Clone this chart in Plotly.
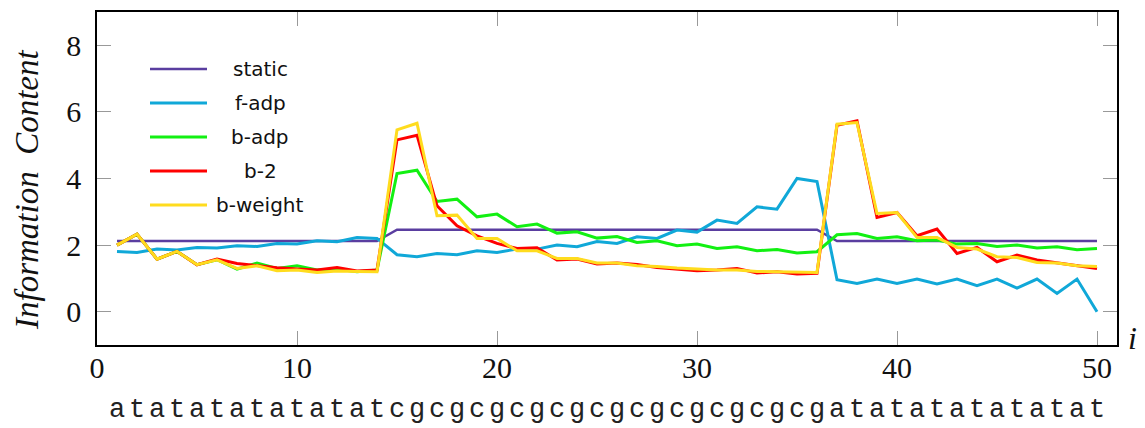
import plotly.graph_objects as go

positions = list(range(1, 51))
sequence = "atatatatatatatcgcgcgcgcgcgcgcgcgcgcgatatatatatatat"

static = [2.12]*14 + [2.46]*22 + [2.12]*14
f_adp = [1.81, 1.78, 1.88, 1.85, 1.93, 1.91, 1.98, 1.96, 2.05, 2.03,
         2.13, 2.10, 2.23, 2.20, 1.71, 1.65, 1.75, 1.71, 1.83, 1.78,
         1.88, 1.88, 2.00, 1.95, 2.11, 2.05, 2.25, 2.20, 2.45, 2.39,
         2.75, 2.65, 3.15, 3.08, 4.00, 3.91, 0.96, 0.85, 0.98, 0.85,
         0.98, 0.83, 0.98, 0.78, 0.98, 0.71, 0.98, 0.55, 0.98, 0.00]
b_adp = [2.00, 2.33, 1.58, 1.81, 1.41, 1.56, 1.28, 1.46, 1.30, 1.38,
         1.25, 1.28, 1.20, 1.25, 4.15, 4.25, 3.31, 3.38, 2.85, 2.93,
         2.55, 2.63, 2.36, 2.40, 2.21, 2.26, 2.08, 2.13, 1.98, 2.03,
         1.90, 1.95, 1.83, 1.87, 1.76, 1.80, 2.31, 2.35, 2.20, 2.25,
         2.13, 2.15, 2.03, 2.05, 1.96, 2.00, 1.91, 1.95, 1.86, 1.90]
b_2 = [2.00, 2.33, 1.58, 1.81, 1.41, 1.58, 1.45, 1.38, 1.32, 1.28,
       1.25, 1.33, 1.22, 1.25, 5.16, 5.30, 3.18, 2.58, 2.28, 2.05,
       1.90, 1.92, 1.55, 1.58, 1.43, 1.46, 1.42, 1.33, 1.28, 1.23,
       1.25, 1.30, 1.16, 1.20, 1.13, 1.15, 5.60, 5.73, 2.83, 2.98,
       2.28, 2.48, 1.75, 1.93, 1.50, 1.70, 1.55, 1.46, 1.38, 1.30]
b_weight = [2.00, 2.33, 1.58, 1.81, 1.41, 1.56, 1.30, 1.38, 1.23, 1.25,
            1.18, 1.22, 1.21, 1.20, 5.46, 5.66, 2.88, 2.90, 2.20, 2.20,
            1.83, 1.83, 1.60, 1.60, 1.46, 1.46, 1.38, 1.36, 1.31, 1.28,
            1.25, 1.25, 1.21, 1.20, 1.18, 1.18, 5.63, 5.68, 2.95, 2.98,
            2.23, 2.23, 1.93, 1.88, 1.65, 1.63, 1.48, 1.46, 1.38, 1.36]

x_ticks = [0, 10, 20, 30, 40, 50]
y_ticks = [0, 2, 4, 6, 8]

series = [
    ("static", static, "#5a3ea0", 2.5),
    ("f-adp", f_adp, "#10a8d8", 3),
    ("b-adp", b_adp, "#12f012", 3),
    ("b-2", b_2, "#ff0000", 3),
    ("b-weight", b_weight, "#ffdc1e", 3),
]

# the page has an 8px body margin; figure is sized so it fits the 1145x428 window
OFF = 8
W, H = 1145 - OFF, 428 - OFF
# plot area in screenshot pixels: x 97..1117, y 12..345
L, T = 97 - OFF, 12 - OFF
R = (1145 - OFF) - (1117 - OFF)
B = H - (345 - OFF)
pw, ph = W - L - R, H - T - B


def px_x(px):
    return (px - 97) / pw


def px_y(py):
    return (345 - py) / ph


fig = go.Figure()
for name, vals, color, w in series:
    fig.add_trace(go.Scatter(x=positions, y=vals, mode="lines", name=name,
                             line=dict(color=color, width=w), showlegend=False))

# manual legend (line sample + centered label)
for k, (name, vals, color, w) in enumerate(series):
    yy = px_y(69 + 34 * k)
    fig.add_shape(type="line", xref="paper", yref="paper",
                  x0=px_x(150), x1=px_x(207), y0=yy, y1=yy,
                  line=dict(color=color, width=w))
    fig.add_annotation(x=px_x(260), y=yy, xref="paper", yref="paper", text=name,
                       showarrow=False, xanchor="center", yanchor="middle",
                       font=dict(family="DejaVu Sans", size=20, color="#111"))

serif = "Liberation Serif"
for i, ch in zip(positions, sequence):
    fig.add_annotation(x=i, y=px_y(410), xref="x", yref="paper", text=ch,
                       showarrow=False, font=dict(family="Liberation Mono", size=27, color="#222"),
                       xanchor="center", yanchor="middle")

fig.add_annotation(x=px_x(1132), y=px_y(338), xref="paper", yref="paper", text="<i>i</i>",
                   showarrow=False, xanchor="center", yanchor="middle", borderpad=0,
                   font=dict(family=serif, size=32, color="#111"))

fig.add_annotation(x=px_x(27), y=px_y(190), xref="paper", yref="paper",
                   text="<i>Information  Content</i>", textangle=-90,
                   showarrow=False, xanchor="center", yanchor="middle",
                   font=dict(family=serif, size=33, color="#111"))

fig.update_layout(
    width=W, height=H,
    margin=dict(l=L, r=R, t=T, b=B, autoexpand=False),
    plot_bgcolor="white", paper_bgcolor="white",
    showlegend=False,
    xaxis=dict(range=[0, 51], tickmode="array", tickvals=x_ticks,
               ticks="inside", ticklen=14, tickcolor="#999", tickwidth=1.3,
               showline=True, linecolor="black", linewidth=1.5, mirror="allticks",
               showgrid=False, zeroline=False, automargin=False,
               ticklabelstandoff=-5,
               tickfont=dict(family=serif, size=30, color="#111")),
    yaxis=dict(range=[-1, 9], tickmode="array", tickvals=y_ticks,
               ticks="inside", ticklen=14, tickcolor="#999", tickwidth=1.3,
               showline=True, linecolor="black", linewidth=1.5, mirror="allticks",
               showgrid=False, zeroline=False, automargin=False,
               ticklabelstandoff=8,
               tickfont=dict(family=serif, size=30, color="#111")),
)

fig.write_html("out.html")
